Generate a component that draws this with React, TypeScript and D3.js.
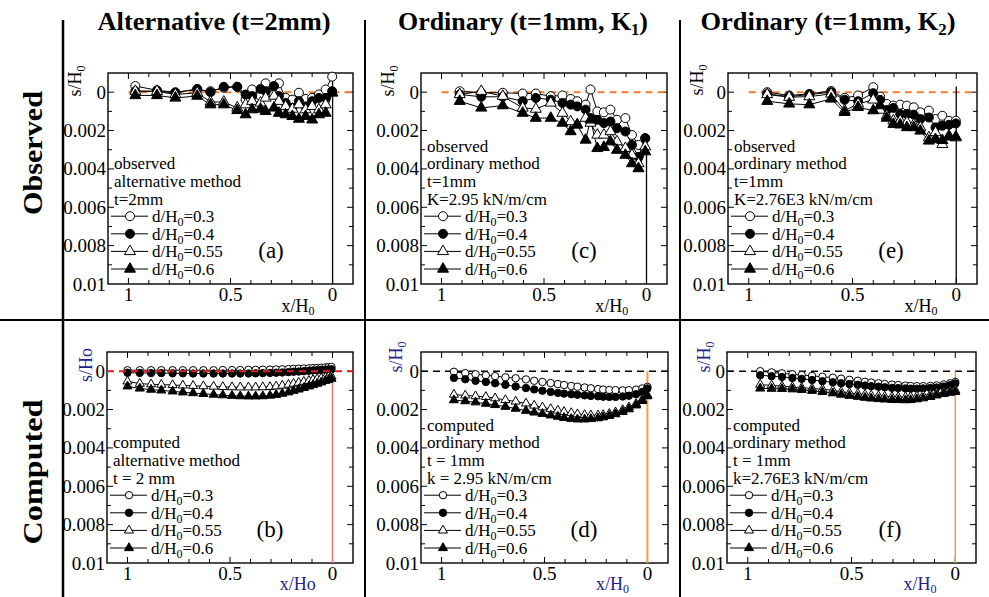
import React from "react";
import * as d3 from "d3";

// ---------- data (s/H0 values are given in units of 0.001, positive = downward) ----------
const seriesNames = ["0.3", "0.4", "0.55", "0.6"];
const markerKinds = ["oc", "fc", "ot", "ft"];
const yTickValues = [0, 2, 4, 6, 8, 10];
const yTickLabels = ["0", "0.002", "0.004", "0.006", "0.008", "0.01"];
const xTickValues = [1, 0.5, 0];
const xTickLabels = ["1", "0.5", "0"];

// (a) observed, alternative method
const obsXA = [0.966, 0.86, 0.77, 0.663, 0.598, 0.533, 0.467, 0.426, 0.394, 0.353, 0.328, 0.287, 0.263, 0.23, 0.197, 0.165, 0.132, 0.1, 0.067, 0.034, 0.002];
const obsA03 = [-0.32, -0.1, 0, -0.14, -0.05, -0.23, -0.28, 0.39, -0.14, 0.2, -0.46, 0.12, -0.46, 0.3, 0.39, 0.03, 0.35, 0.3, 0.12, -0.14, -0.81];
const obsA04 = [-0.05, -0.05, 0.03, -0.17, 0, -0.28, -0.28, 0.12, 0.2, -0.17, -0.05, -0.32, 0.2, 0.56, 0.82, 0.47, 0.74, 0.47, 0.3, 0.3, -0.05];
const obsA055 = [-0.05, -0.05, 0.12, 0.03, 0.51, 0.51, 0.82, 0.65, 0.47, 0.56, 0.3, 0.2, 0.47, 0.74, 0.88, 0.65, 0.91, 0.74, 0.91, 0.65, 0.03];
const obsA06 = [0.17, 0.17, 0.3, 0.2, 0.65, 0.65, 0.95, 1.17, 0.91, 0.88, 1.0, 0.82, 1.09, 1.17, 1.26, 1.4, 1.26, 1.44, 1.17, 1.09, 0.03];

// (c) observed, ordinary method K1
const obsXC = [0.911, 0.806, 0.701, 0.604, 0.54, 0.467, 0.41, 0.37, 0.338, 0.297, 0.273, 0.24, 0.208, 0.176, 0.144, 0.103, 0.071, 0.039, 0.006];
const obsC03 = [-0.05, 0.03, 0.03, 0.07, 0.07, 0.21, 0.17, 0.35, 0.47, 0.65, -0.14, 1.0, 1.05, 0.91, 1.44, 1.35, 2.23, 2.75, 2.4];
const obsC04 = [0.12, 0.24, 0.24, 0.47, 0.3, 0.39, 0.56, 0.65, 0.74, 0.91, 1.35, 1.44, 1.61, 1.53, 1.88, 2.05, 2.75, 3.37, 2.4];
const obsC055 = [0.12, -0.05, 0.21, 0.82, 0.88, 0.56, 1.09, 1.53, 1.7, 1.35, 1.61, 2.23, 2.23, 2.05, 2.58, 2.93, 3.28, 3.72, 2.84];
const obsC06 = [0.47, 0.82, 0.7, 1.09, 1.35, 1.35, 1.61, 2.05, 1.7, 2.49, 1.44, 2.93, 2.87, 2.58, 3.02, 3.28, 3.72, 3.98, 3.1];

// (e) observed, ordinary method K2
const obsXE = [0.911, 0.805, 0.708, 0.603, 0.538, 0.473, 0.4, 0.367, 0.335, 0.303, 0.27, 0.238, 0.205, 0.173, 0.132, 0.1, 0.067, 0.035, 0.002];
const obsE03 = [0, 0.17, 0.09, -0.06, 0.3, 0.17, -0.26, 0.23, 0.61, 0.7, 0.65, 0.7, 0.79, 1.05, 0.96, 1.4, 1.23, 1.49, 1.49];
const obsE04 = [0.09, 0.23, 0.12, 0, 0.4, 0.47, 0.05, 0.4, 0.93, 0.82, 1.14, 1.14, 1.17, 1.4, 1.32, 1.84, 1.75, 1.7, 1.63];
const obsE055 = [0.12, 0.26, 0.23, 0.09, 0.96, 0.61, 0.4, 0.93, 1.23, 1.49, 1.49, 1.58, 1.7, 1.84, 2.37, 2.1, 2.72, 2.28, 2.37];
const obsE06 = [0.47, 0.61, 0.65, 0.35, 1.05, 0.79, 0.96, 0.7, 1.35, 1.67, 1.7, 1.84, 1.84, 2.02, 2.54, 2.46, 2.51, 2.33, 2.33];

// (b) computed, alternative method
const compXB = [1, 0.94, 0.885, 0.835, 0.78, 0.73, 0.68, 0.63, 0.58, 0.535, 0.49, 0.45, 0.41, 0.375, 0.34, 0.305, 0.275, 0.245, 0.215, 0.19, 0.165, 0.14, 0.115, 0.095, 0.075, 0.055, 0.035, 0.02, 0.005];
const compB03 = [-0.05, -0.05, -0.05, -0.05, -0.05, -0.05, -0.05, -0.05, -0.05, -0.06, -0.06, -0.06, -0.07, -0.07, -0.08, -0.08, -0.09, -0.1, -0.11, -0.12, -0.13, -0.14, -0.15, -0.16, -0.17, -0.18, -0.2, -0.21, -0.22];
const compB04 = [0.08, 0.09, 0.1, 0.1, 0.11, 0.11, 0.12, 0.12, 0.12, 0.12, 0.12, 0.12, 0.12, 0.11, 0.1, 0.09, 0.08, 0.07, 0.05, 0.03, 0.02, 0, -0.02, -0.04, -0.05, -0.07, -0.08, -0.09, -0.1];
const compB055 = [0.53, 0.65, 0.68, 0.7, 0.72, 0.74, 0.76, 0.78, 0.8, 0.82, 0.83, 0.84, 0.84, 0.84, 0.83, 0.82, 0.79, 0.75, 0.7, 0.65, 0.6, 0.55, 0.5, 0.45, 0.41, 0.37, 0.33, 0.3, 0.27];
const compB06 = [0.79, 0.9, 0.96, 1.0, 1.05, 1.1, 1.14, 1.18, 1.22, 1.25, 1.28, 1.3, 1.31, 1.31, 1.3, 1.27, 1.23, 1.17, 1.1, 1.02, 0.95, 0.87, 0.79, 0.72, 0.65, 0.58, 0.5, 0.45, 0.39];

// (d) computed, ordinary method K1
const compXD = [0.94, 0.885, 0.835, 0.785, 0.74, 0.69, 0.64, 0.59, 0.55, 0.51, 0.47, 0.435, 0.405, 0.37, 0.34, 0.305, 0.275, 0.24, 0.215, 0.185, 0.155, 0.12, 0.09, 0.055, 0.025, 0];
const compD03 = [0.03, 0.1, 0.16, 0.21, 0.26, 0.32, 0.37, 0.43, 0.5, 0.56, 0.62, 0.67, 0.72, 0.77, 0.81, 0.85, 0.89, 0.93, 0.96, 0.98, 0.99, 1.0, 0.99, 0.96, 0.9, 0.82];
const compD04 = [0.35, 0.42, 0.5, 0.56, 0.63, 0.71, 0.8, 0.88, 0.95, 1.02, 1.08, 1.13, 1.17, 1.2, 1.23, 1.26, 1.29, 1.31, 1.33, 1.34, 1.34, 1.32, 1.28, 1.2, 1.08, 0.9];
const compD055 = [1.22, 1.26, 1.3, 1.34, 1.41, 1.5, 1.58, 1.68, 1.79, 1.88, 1.97, 2.05, 2.12, 2.18, 2.24, 2.28, 2.3, 2.3, 2.28, 2.22, 2.14, 2.02, 1.88, 1.7, 1.48, 1.25];
const compD06 = [1.51, 1.56, 1.62, 1.69, 1.76, 1.85, 1.95, 2.06, 2.15, 2.22, 2.3, 2.37, 2.43, 2.48, 2.51, 2.51, 2.49, 2.45, 2.4, 2.33, 2.24, 2.12, 1.98, 1.78, 1.55, 1.3];

// (f) computed, ordinary method K2
const compXF = [0.94, 0.885, 0.835, 0.785, 0.74, 0.69, 0.64, 0.59, 0.55, 0.51, 0.47, 0.435, 0.405, 0.37, 0.34, 0.305, 0.275, 0.24, 0.215, 0.185, 0.155, 0.12, 0.09, 0.055, 0.025, 0];
const compF03 = [0, 0.06, 0.11, 0.16, 0.2, 0.25, 0.29, 0.34, 0.39, 0.45, 0.5, 0.55, 0.59, 0.63, 0.67, 0.7, 0.72, 0.75, 0.77, 0.78, 0.78, 0.77, 0.74, 0.69, 0.63, 0.56];
const compF04 = [0.21, 0.26, 0.3, 0.35, 0.4, 0.46, 0.52, 0.58, 0.63, 0.67, 0.71, 0.75, 0.78, 0.81, 0.84, 0.87, 0.88, 0.9, 0.91, 0.91, 0.9, 0.88, 0.85, 0.8, 0.73, 0.64];
const compF055 = [0.7, 0.74, 0.78, 0.82, 0.86, 0.9, 0.94, 1.0, 1.07, 1.13, 1.18, 1.22, 1.26, 1.29, 1.32, 1.34, 1.35, 1.35, 1.34, 1.31, 1.27, 1.22, 1.16, 1.09, 1.03, 0.99];
const compF06 = [0.9, 0.91, 0.92, 0.94, 0.97, 1.02, 1.08, 1.15, 1.22, 1.28, 1.33, 1.38, 1.42, 1.45, 1.47, 1.49, 1.5, 1.51, 1.5, 1.46, 1.41, 1.34, 1.26, 1.18, 1.12, 1.08];

const columnTitles = [
  { main: "Alternative (t=2mm)", sub: "", tail: "" },
  { main: "Ordinary (t=1mm, K", sub: "1", tail: ")" },
  { main: "Ordinary (t=1mm, K", sub: "2", tail: ")" },
];
const rowTitles = ["Observed", "Computed"];

// ---------- layout ----------
const FONT = "Liberation Serif, Times New Roman, serif";
const BLUE = "#22228a";

type PanelCfg = {
  left: number; right: number; top: number; bottom: number;
  xs: number[]; ys: number[][];
  info: string[]; label: string;
  row: number;
  zeroColor: string; zeroWidth: number; zeroFromFrame: boolean; zeroOnTop: boolean;
  wallColor: string; wallWidth: number; wallTop: number;
  yTitleSub: string; yTitleDx: number; yTitleDy: number; xTitleSub: string;
  msize: number;
};

const panels: PanelCfg[] = [
  { left: 108, right: 353, top: 73, bottom: 284, xs: obsXA, ys: [obsA03, obsA04, obsA055, obsA06],
    info: ["observed", "alternative method", "t=2mm"], label: "(a)", row: 0,
    zeroColor: "#f37b32", zeroWidth: 2, zeroFromFrame: false, zeroOnTop: false, wallColor: "#000", wallWidth: 1.3, wallTop: -0.8,
    yTitleSub: "0", yTitleDx: -33, yTitleDy: 8, xTitleSub: "0", msize: 4.5 },
  { left: 421, right: 667, top: 73, bottom: 284, xs: obsXC, ys: [obsC03, obsC04, obsC055, obsC06],
    info: ["observed", "ordinary method", "t=1mm", "K=2.95 kN/m/cm"], label: "(c)", row: 0,
    zeroColor: "#f37b32", zeroWidth: 2, zeroFromFrame: false, zeroOnTop: false, wallColor: "#000", wallWidth: 1.3, wallTop: 2.3,
    yTitleSub: "0", yTitleDx: -33, yTitleDy: 8, xTitleSub: "0", msize: 4.5 },
  { left: 728, right: 977, top: 73, bottom: 284, xs: obsXE, ys: [obsE03, obsE04, obsE055, obsE06],
    info: ["observed", "ordinary method", "t=1mm", "K=2.76E3 kN/m/cm"], label: "(e)", row: 0,
    zeroColor: "#f37b32", zeroWidth: 2, zeroFromFrame: false, zeroOnTop: false, wallColor: "#000", wallWidth: 1.3, wallTop: -0.3,
    yTitleSub: "0", yTitleDx: -31, yTitleDy: 7, xTitleSub: "0", msize: 4.5 },
  { left: 107, right: 353, top: 352, bottom: 563, xs: compXB, ys: [compB03, compB04, compB055, compB06],
    info: ["computed", "alternative method", "t = 2 mm"], label: "(b)", row: 1,
    zeroColor: "#e02020", zeroWidth: 2, zeroFromFrame: true, zeroOnTop: true, wallColor: "#f07878", wallWidth: 1.6, wallTop: 0,
    yTitleSub: "o", yTitleDx: -21, yTitleDy: 13, xTitleSub: "o", msize: 3.7 },
  { left: 421, right: 668, top: 352, bottom: 563, xs: compXD, ys: [compD03, compD04, compD055, compD06],
    info: ["computed", "ordinary method", "t = 1mm", "k = 2.95 kN/m/cm"], label: "(d)", row: 1,
    zeroColor: "#000", zeroWidth: 1.6, zeroFromFrame: true, zeroOnTop: false, wallColor: "#f5a040", wallWidth: 2, wallTop: 0,
    yTitleSub: "0", yTitleDx: -25, yTitleDy: 5, xTitleSub: "0", msize: 3.7 },
  { left: 727, right: 976, top: 352, bottom: 563, xs: compXF, ys: [compF03, compF04, compF055, compF06],
    info: ["computed", "ordinary method", "t = 1mm", "k=2.76E3 kN/m/cm"], label: "(f)", row: 1,
    zeroColor: "#000", zeroWidth: 1.6, zeroFromFrame: true, zeroOnTop: false, wallColor: "#f5a040", wallWidth: 1.5, wallTop: 0,
    yTitleSub: "0", yTitleDx: -23, yTitleDy: 5, xTitleSub: "0", msize: 3.7 },
];

function Marker({ kind, cx, cy, r }: { kind: string; cx: number; cy: number; r: number }) {
  const isTri = kind === "ot" || kind === "ft";
  const fill = kind === "fc" || kind === "ft" ? "#000" : "#fff";
  const path = isTri
    ? d3.symbol().type(d3.symbolTriangle).size(r * r * 2.6)()
    : d3.symbol().type(d3.symbolCircle).size(Math.PI * r * r)();
  return <path d={path || ""} transform={`translate(${cx},${cy})`} fill={fill} stroke="#000" strokeWidth={1} />;
}

function Panel({ p }: { p: PanelCfg }) {
  const x = d3.scaleLinear().domain([1.1, -0.1]).range([p.left, p.right]);
  const y = d3.scaleLinear().domain([-1, 10]).range([p.top, p.bottom]);
  const xMinor = d3.range(0, 11).map((k) => k / 10);
  const yMinor = d3.range(0, 10);
  const titleColor = p.row === 1 ? BLUE : "#000";
  const lh = 17.6;
  const legendBottom = p.bottom - 15;
  const nInfo = p.info.length;
  const totalLines = nInfo + 4;
  const firstY = legendBottom - (totalLines - 1) * lh;
  const textX = p.left + 6;
  const zeroLine = (
    <line
      x1={p.zeroFromFrame ? p.left : x(1)}
      x2={p.right}
      y1={y(0)}
      y2={y(0)}
      stroke={p.zeroColor}
      strokeWidth={p.zeroWidth}
      strokeDasharray="7,5"
    />
  );
  return (
    <g>
      {/* frame */}
      <rect x={p.left} y={p.top} width={p.right - p.left} height={p.bottom - p.top} fill="none" stroke="#000" strokeWidth={1.4} />
      {/* x ticks */}
      {xMinor.map((v) => {
        const major = Math.abs(v - 0) < 1e-9 || Math.abs(v - 0.5) < 1e-9 || Math.abs(v - 1) < 1e-9;
        const len = major ? 6 : 4;
        return (
          <g key={"xt" + v}>
            <line x1={x(v)} x2={x(v)} y1={p.bottom} y2={p.bottom - len} stroke="#000" />
            <line x1={x(v)} x2={x(v)} y1={p.top} y2={p.top + len} stroke="#000" />
          </g>
        );
      })}
      {yMinor.map((v) => {
        const len = v % 2 === 0 ? 6 : 4;
        return (
          <g key={"yt" + v}>
            <line x1={p.left} x2={p.left + len} y1={y(v)} y2={y(v)} stroke="#000" />
            <line x1={p.right} x2={p.right - len} y1={y(v)} y2={y(v)} stroke="#000" />
          </g>
        );
      })}
      {/* tick labels */}
      {yTickValues.map((v, i) => (
        <text key={"yl" + v} x={p.left - 2} y={y(v) + 6.5} textAnchor="end" fontSize={19} fontFamily={FONT} fill="#000">
          {yTickLabels[i]}
        </text>
      ))}
      {xTickValues.map((v, i) => (
        <text key={"xl" + v} x={x(v)} y={p.bottom + 17} textAnchor="middle" fontSize={19} fontFamily={FONT} fill="#000">
          {xTickLabels[i]}
        </text>
      ))}
      {/* axis titles */}
      <g transform={`translate(${p.left + p.yTitleDx},${p.top + p.yTitleDy}) rotate(-90)`}>
        <text x={0} y={6} textAnchor="middle" fontSize={18} fontFamily={FONT} fill={titleColor}>
          s/H
          {p.yTitleSub === "0" ? <tspan dy={4} fontSize={12}>0</tspan> : <tspan>o</tspan>}
        </text>
      </g>
      <text x={x(0.17)} y={p.row === 0 ? 312 : 590} textAnchor="middle" fontSize={18} fontFamily={FONT} fill={titleColor}>
        x/H
        {p.xTitleSub === "0" ? <tspan dy={3} fontSize={12}>0</tspan> : <tspan>o</tspan>}
      </text>
      {!p.zeroOnTop && zeroLine}
      {/* wall at x = 0 */}
      <line x1={x(0)} x2={x(0)} y1={y(p.wallTop)} y2={p.bottom} stroke={p.wallColor} strokeWidth={p.wallWidth} />
      {/* series */}
      {p.ys.map((vals, si) => {
        const pts: [number, number][] = vals.map((v, i) => [p.xs[i], v]);
        const path = d3.line<[number, number]>().x((d) => x(d[0])).y((d) => y(d[1]))(pts) || "";
        return <path key={"l" + si} d={path} fill="none" stroke="#000" strokeWidth={1} />;
      })}
      {p.ys.map((vals, si) => (
        <g key={"m" + si}>
          {vals.map((v, i) => (
            <Marker key={i} kind={markerKinds[si]} cx={x(p.xs[i])} cy={y(v)} r={p.msize} />
          ))}
        </g>
      ))}
      {p.zeroOnTop && zeroLine}
      {/* info text */}
      {p.info.map((t, i) => (
        <text key={"i" + i} x={textX} y={firstY + i * lh + 6} fontSize={17} fontFamily={FONT} fill="#000">
          {t}
        </text>
      ))}
      {/* legend */}
      {seriesNames.map((n, i) => {
        const cy = firstY + (nInfo + i) * lh;
        return (
          <g key={"lg" + i}>
            <line x1={p.left + 3} x2={p.left + 40} y1={cy} y2={cy} stroke="#000" strokeWidth={1} />
            <Marker kind={markerKinds[i]} cx={p.left + 22} cy={cy} r={p.msize} />
            <text x={p.left + 44} y={cy + 6} fontSize={17} fontFamily={FONT} fill="#000">
              d/H<tspan dy={4} fontSize={12}>0</tspan>
              <tspan dy={-4}>={n}</tspan>
            </text>
          </g>
        );
      })}
      {/* panel label */}
      <text x={p.left + 163} y={p.row === 0 ? 258 : 537} textAnchor="middle" fontSize={23} fontFamily={FONT} fill="#000">
        {p.label}
      </text>
    </g>
  );
}

export default function App() {
  const headerCenters = [214, 523, 828];
  const headerWidths = [233, 250, 255];
  return (
    <div style={{ position: "fixed", left: 0, top: 0, width: 989, height: 597, background: "#fff" }}>
      <svg width={989} height={597} style={{ display: "block" }}>
        <rect width={989} height={597} fill="#fff" />
        {/* separators */}
        <line x1={63} x2={63} y1={20} y2={597} stroke="#000" strokeWidth={2.5} />
        <line x1={365} x2={365} y1={20} y2={597} stroke="#000" strokeWidth={2} />
        <line x1={680} x2={680} y1={20} y2={597} stroke="#000" strokeWidth={2} />
        <line x1={0} x2={989} y1={320} y2={320} stroke="#000" strokeWidth={2} />
        {/* column titles */}
        {columnTitles.map((c, i) => (
          <text
            key={"ct" + i}
            x={headerCenters[i]}
            y={30}
            textAnchor="middle"
            fontSize={25}
            fontWeight="bold"
            fontFamily={FONT}
            textLength={headerWidths[i]}
            lengthAdjust="spacingAndGlyphs"
          >
            {c.main}
            {c.sub ? <tspan dy={5} fontSize={16}>{c.sub}</tspan> : null}
            {c.tail ? <tspan dy={-5}>{c.tail}</tspan> : null}
          </text>
        ))}
        {/* row titles */}
        {rowTitles.map((t, i) => (
          <g key={"rt" + i} transform={`translate(32,${i === 0 ? 153 : 472}) rotate(-90)`}>
            <text x={0} y={10} textAnchor="middle" fontSize={28} fontWeight="bold" fontFamily={FONT} textLength={i === 0 ? 124 : 145} lengthAdjust="spacingAndGlyphs">
              {t}
            </text>
          </g>
        ))}
        {panels.map((p, i) => (
          <Panel key={i} p={p} />
        ))}
      </svg>
    </div>
  );
}
